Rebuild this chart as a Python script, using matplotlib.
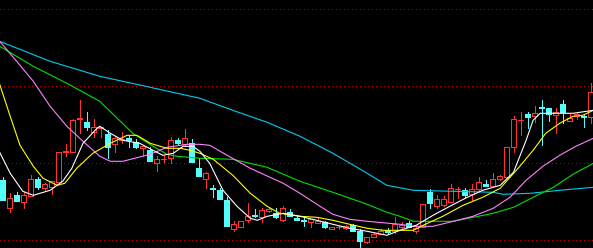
import numpy as np
import matplotlib
matplotlib.use('Agg')
import matplotlib.pyplot as plt

# daily candles, left to right
opens = [5.60, 5.32, 5.45, 5.38, 5.44, 5.61, 5.52, 5.53, 5.58, 5.88,
         5.88, 6.21, 6.18, 6.08, 6.12, 6.06, 5.96, 6.00, 6.02, 5.98,
         5.92, 5.90, 5.77, 5.81, 5.82, 6.00, 5.96, 5.97, 5.72, 5.61,
         5.52, 5.50, 5.40, 5.11, 5.13, 5.20, 5.25, 5.23, 5.29, 5.27,
         5.20, 5.28, 5.22, 5.20, 5.18, 5.17, 5.18, 5.11, 5.13, 5.12,
         5.15, 5.09, 4.98, 5.03, 5.06, 5.10, 5.09, 5.13, 5.17, 5.09,
         5.13, 5.48, 5.34, 5.35, 5.38, 5.51, 5.50, 5.46, 5.51, 5.56,
         5.54, 5.61, 5.63, 5.93, 6.20, 6.26, 6.24, 6.33, 6.32, 6.25,
         6.36, 6.19, 6.24, 6.24, 6.23]
highs = [5.63, 5.47, 5.48, 5.48, 5.65, 5.63, 5.57, 5.59, 5.88, 5.96,
         6.21, 6.40, 6.28, 6.21, 6.13, 6.10, 6.03, 6.08, 6.05, 6.01,
         5.94, 5.93, 5.84, 5.84, 6.03, 6.02, 6.11, 6.01, 5.82, 5.68,
         5.55, 5.52, 5.43, 5.19, 5.19, 5.37, 5.31, 5.32, 5.32, 5.32,
         5.34, 5.31, 5.25, 5.23, 5.21, 5.23, 5.19, 5.13, 5.14, 5.15,
         5.16, 5.11, 5.03, 5.07, 5.11, 5.12, 5.23, 5.18, 5.19, 5.13,
         5.36, 5.51, 5.45, 5.44, 5.56, 5.53, 5.52, 5.56, 5.63, 5.60,
         5.67, 5.65, 5.93, 6.24, 6.28, 6.28, 6.34, 6.40, 6.32, 6.32,
         6.40, 6.27, 6.27, 6.25, 6.57]
lows = [5.40, 5.28, 5.39, 5.32, 5.44, 5.51, 5.49, 5.46, 5.58, 5.84,
        5.88, 6.07, 6.10, 6.03, 6.03, 5.82, 5.88, 5.97, 5.93, 5.92,
        5.84, 5.79, 5.69, 5.78, 5.77, 5.95, 5.95, 5.78, 5.64, 5.52,
        5.43, 5.41, 5.14, 5.09, 5.13, 5.18, 5.23, 5.18, 5.28, 5.22,
        5.19, 5.24, 5.20, 5.14, 5.13, 5.17, 5.12, 5.11, 5.11, 5.11,
        5.09, 4.93, 4.97, 5.03, 5.06, 5.07, 5.07, 5.12, 5.13, 5.07,
        5.13, 5.32, 5.32, 5.34, 5.38, 5.42, 5.43, 5.39, 5.50, 5.54,
        5.54, 5.60, 5.62, 5.88, 6.05, 6.12, 6.18, 5.95, 6.19, 6.07,
        6.17, 6.19, 6.21, 6.13, 6.17]
closes = [5.40, 5.42, 5.39, 5.45, 5.61, 5.53, 5.56, 5.59, 5.88, 5.89,
          6.20, 6.22, 6.13, 6.13, 6.13, 5.93, 6.02, 6.01, 6.00, 5.93,
          5.94, 5.79, 5.81, 5.81, 6.00, 5.97, 6.02, 5.78, 5.64, 5.67,
          5.51, 5.41, 5.14, 5.16, 5.19, 5.24, 5.24, 5.30, 5.31, 5.23,
          5.32, 5.24, 5.20, 5.19, 5.21, 5.19, 5.13, 5.13, 5.13, 5.14,
          5.09, 4.99, 5.03, 5.06, 5.09, 5.08, 5.16, 5.15, 5.13, 5.12,
          5.36, 5.37, 5.41, 5.41, 5.52, 5.51, 5.45, 5.51, 5.58, 5.54,
          5.61, 5.64, 5.93, 6.21, 6.20, 6.23, 6.27, 6.32, 6.26, 6.28,
          6.28, 6.22, 6.26, 6.23, 6.48]

# moving average lines (x = candle index)
ma5_x = [-0.4, 1.1, 2.9, 4.4, 6.8, 8.6, 9.9, 11.5, 13.5, 13.9, 15.4, 17.2, 19.6, 21.5, 22.9, 24.4,
         25.8, 27.2, 28.2, 29.6, 31.5, 33.5, 35.4, 36.4, 37.8, 40.1, 42.5, 44.9, 47.2, 49.6, 52.1,
         54.9, 56.8, 59.1, 61.5, 63.9, 66.4, 68.6, 71.1, 73.0, 73.9, 74.8, 75.8, 76.8, 78.7, 81.5, 84.4]
ma5 = [5.88, 5.67, 5.49, 5.45, 5.50, 5.59, 5.72, 5.97, 6.12, 6.14, 6.07, 6.00, 5.97, 5.90, 5.85, 5.87,
       5.94, 5.94, 5.89, 5.77, 5.50, 5.34, 5.22, 5.20, 5.24, 5.27, 5.24, 5.20, 5.16, 5.12, 5.09,
       5.05, 5.10, 5.15, 5.25, 5.34, 5.43, 5.50, 5.55, 5.68, 5.84, 6.00, 6.20, 6.27, 6.27, 6.27, 6.30]
ma10_x = [-0.4, 1.1, 2.5, 4.4, 5.8, 7.8, 8.9, 10.6, 12.9, 15.4, 17.8, 19.2, 21.1, 23.5, 25.4, 26.8,
          28.2, 30.1, 32.9, 35.4, 37.8, 39.6, 42.5, 44.9, 47.2, 49.6, 52.1, 54.4, 58.7, 60.1, 62.9,
          65.8, 68.6, 71.1, 73.9, 75.8, 77.6, 79.6, 81.5, 82.9, 84.4]
ma10 = [6.56, 6.24, 5.95, 5.74, 5.62, 5.55, 5.57, 5.72, 5.87, 5.97, 6.05, 6.05, 5.97, 5.92, 5.92, 5.90,
        5.87, 5.81, 5.65, 5.47, 5.34, 5.27, 5.24, 5.23, 5.20, 5.16, 5.12, 5.10, 5.10, 5.15, 5.24,
        5.35, 5.43, 5.52, 5.74, 5.90, 6.07, 6.17, 6.24, 6.25, 6.30]
ma20_x = [-0.4, 2.5, 4.4, 6.8, 9.2, 11.5, 13.9, 15.4, 17.2, 21.1, 23.5, 26.4, 28.2, 29.6, 32.1, 35.4,
          40.1, 42.5, 45.8, 47.2, 49.6, 52.1, 56.8, 58.7, 61.5, 64.4, 67.2, 70.1, 72.5, 74.8, 77.2,
          79.6, 81.9, 84.4]
ma20 = [6.99, 6.75, 6.59, 6.34, 6.14, 5.99, 5.84, 5.79, 5.79, 5.86, 5.93, 5.96, 5.96, 5.95, 5.85, 5.72,
        5.57, 5.47, 5.32, 5.26, 5.21, 5.19, 5.16, 5.14, 5.14, 5.19, 5.24, 5.32, 5.43, 5.60, 5.74,
        5.85, 5.94, 6.02]
ma30_x = [-0.4, 4.4, 9.2, 13.9, 18.6, 21.5, 23.5, 24.9, 28.2, 32.9, 37.8, 42.5, 47.2, 52.1, 54.9, 56.8,
          58.7, 64.4, 70.1, 73.0, 75.8, 78.7, 81.5, 84.4]
ma30 = [6.94, 6.74, 6.57, 6.39, 6.07, 5.94, 5.86, 5.84, 5.82, 5.81, 5.73, 5.59, 5.48, 5.36, 5.28, 5.24,
        5.19, 5.19, 5.27, 5.33, 5.43, 5.53, 5.66, 5.77]
ma60_x = [-0.4, 6.8, 13.9, 21.1, 28.2, 32.9, 37.8, 42.5, 47.2, 52.1, 54.9, 58.7, 70.1, 71.5, 75.4,
          79.6, 84.4]
ma60 = [6.99, 6.79, 6.64, 6.53, 6.42, 6.30, 6.18, 6.04, 5.87, 5.67, 5.55, 5.50, 5.48, 5.46, 5.47,
        5.50, 5.53]

grid_levels = [5.00, 5.77, 6.54, 7.31]

UP = '#ff3333'
DOWN = '#54fcfc'
lw = 0.5  # single pixel when drawn without antialiasing

fig = plt.figure(figsize=(5.93, 2.48), dpi=100, facecolor='black')
ax = fig.add_axes([0, 0, 1, 1])
ax.set_facecolor('black')

for lvl in grid_levels:
    ax.axhline(lvl, color='#b00000', linewidth=lw, linestyle=(0, (1.4, 5.6)),
               antialiased=False, zorder=0)

idx = np.arange(len(opens))
o = np.array(opens)
c = np.array(closes)
up = c >= o
colors = np.where(up, UP, DOWN)

ax.vlines(idx, lows, highs, colors=colors, linewidth=lw, antialiased=False, zorder=1)
body_lo = np.minimum(o, c)
body_h = np.abs(c - o)
ax.bar(idx[up], body_h[up], bottom=body_lo[up], width=0.62,
       facecolor='black', edgecolor=UP, linewidth=lw, antialiased=False, zorder=2)
ax.bar(idx[~up], body_h[~up], bottom=body_lo[~up], width=0.7,
       facecolor=DOWN, edgecolor=DOWN, linewidth=lw, antialiased=False, zorder=2)

ma_lines = [(ma60_x, ma60, '#00ccf0'), (ma30_x, ma30, '#00e000'), (ma20_x, ma20, '#ff80ff'),
            (ma10_x, ma10, '#ffff00'), (ma5_x, ma5, '#ffffff')]
for xs, ys, col in ma_lines:
    ax.plot(xs, ys, color=col, linewidth=0.8, solid_joinstyle='round', zorder=3)

ax.set_xlim(-2.5 / 7, (593 - 2.5) / 7)
ax.set_ylim(7.403 - 2.48, 7.403)
ax.axis('off')

fig.savefig('out.png', dpi=100, facecolor='black')
